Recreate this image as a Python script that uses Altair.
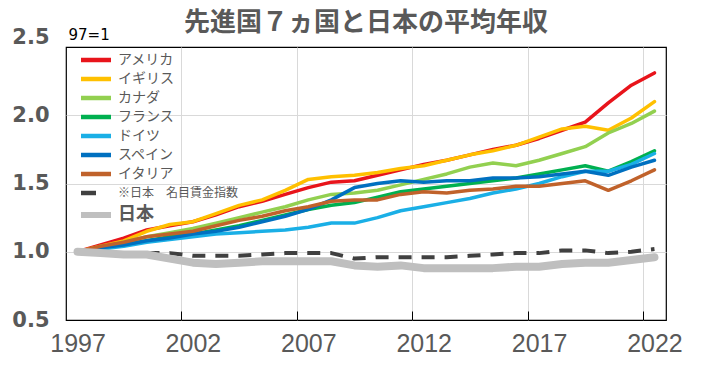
import altair as alt
import pandas as pd

years = list(range(1997, 2023))

series_names = ["アメリカ", "イギリス", "カナダ", "フランス", "ドイツ", "スペイン", "イタリア",
                "※日本　名目賃金指数", "日本"]
series_colors = ["#E8141B", "#FFC000", "#92D050", "#00B050", "#1AAFE6", "#0070C0", "#C0622B",
                 "#404040", "#BFBFBF"]

usa = [1.00, 1.05, 1.10, 1.16, 1.19, 1.22, 1.27, 1.33, 1.37, 1.42, 1.47, 1.51, 1.52, 1.56,
       1.60, 1.64, 1.67, 1.71, 1.75, 1.78, 1.83, 1.89, 1.95, 2.09, 2.22, 2.31]
uk = [1.00, 1.04, 1.08, 1.15, 1.20, 1.22, 1.28, 1.34, 1.38, 1.45, 1.53, 1.55, 1.56, 1.58,
      1.61, 1.63, 1.67, 1.71, 1.74, 1.78, 1.84, 1.90, 1.92, 1.89, 1.98, 2.10]
canada = [1.00, 1.03, 1.07, 1.11, 1.14, 1.17, 1.21, 1.25, 1.29, 1.33, 1.38, 1.42, 1.43, 1.45,
          1.49, 1.53, 1.57, 1.62, 1.65, 1.63, 1.67, 1.72, 1.77, 1.87, 1.94, 2.03]
france = [1.00, 1.02, 1.05, 1.08, 1.11, 1.13, 1.16, 1.19, 1.23, 1.27, 1.31, 1.34, 1.36, 1.40,
          1.44, 1.46, 1.48, 1.50, 1.52, 1.54, 1.57, 1.60, 1.63, 1.59, 1.66, 1.74]
germany = [1.00, 1.02, 1.04, 1.07, 1.09, 1.11, 1.13, 1.14, 1.15, 1.16, 1.18, 1.21, 1.21, 1.25,
           1.30, 1.33, 1.36, 1.39, 1.43, 1.46, 1.50, 1.55, 1.59, 1.59, 1.64, 1.72]
spain = [1.00, 1.03, 1.05, 1.08, 1.10, 1.13, 1.15, 1.18, 1.22, 1.26, 1.31, 1.38, 1.47, 1.50,
         1.52, 1.51, 1.52, 1.52, 1.54, 1.54, 1.55, 1.57, 1.59, 1.56, 1.62, 1.67]
italy = [1.00, 1.04, 1.07, 1.11, 1.13, 1.15, 1.19, 1.23, 1.26, 1.30, 1.33, 1.37, 1.38, 1.38,
         1.42, 1.44, 1.43, 1.45, 1.46, 1.48, 1.48, 1.50, 1.52, 1.45, 1.52, 1.60]
japan_nominal = [1.00, 1.00, 0.99, 0.99, 0.99, 0.97, 0.97, 0.97, 0.98, 0.99, 0.99, 0.99, 0.95,
                 0.96, 0.96, 0.96, 0.96, 0.97, 0.98, 0.99, 0.99, 1.01, 1.01, 0.99, 1.00, 1.02]
japan = [1.00, 0.99, 0.98, 0.98, 0.95, 0.92, 0.91, 0.92, 0.93, 0.93, 0.93, 0.93, 0.90, 0.89,
         0.90, 0.88, 0.88, 0.88, 0.88, 0.89, 0.89, 0.91, 0.92, 0.92, 0.94, 0.96]

x_tick_labels = [1997, 2002, 2007, 2012, 2017, 2022]
y_tick_values = [0.5, 1.0, 1.5, 2.0, 2.5]

all_values = [usa, uk, canada, france, germany, spain, italy, japan_nominal, japan]
kinds = ["country"] * 7 + ["nominal", "japan"]

rows = []
for name, kind, vals in zip(series_names, kinds, all_values):
    for yr, v in zip(years, vals):
        rows.append({"year": yr, "value": v, "series": name, "kind": kind})
df = pd.DataFrame(rows)

# gridlines sit between categories (Excel-style category axis)
grid_positions = [y - 0.5 for y in x_tick_labels[1:]]
x_axis_values = sorted(x_tick_labels + grid_positions)

x_enc = alt.X(
    "year:Q",
    scale=alt.Scale(domain=[1996.5, 2022.5], nice=False, zero=False),
    axis=alt.Axis(
        values=x_axis_values,
        format="d",
        labelExpr="datum.value % 1 === 0 ? datum.label : ''",
        labelFont="Liberation Sans",
        labelFontSize=25,
        labelColor="#595959",
        labelFlush=False,
        labelOverlap=False,
        labelPadding=20,
        domain=False,
        grid=True,
        gridColor="#D9D9D9",
        gridOpacity={"condition": {"test": "datum.value % 1 !== 0", "value": 1}, "value": 0},
        ticks=True,
        tickColor="black",
        tickSize={"expr": "-9"},
        tickOpacity={"condition": {"test": "datum.value % 1 !== 0", "value": 1}, "value": 0},
        title=None,
    ),
)
y_enc = alt.Y(
    "value:Q",
    scale=alt.Scale(domain=[0.5, 2.5], nice=False, zero=False),
    axis=alt.Axis(
        values=y_tick_values,
        format=".1f",
        labelFont="DejaVu Sans",
        labelFontWeight="bold",
        labelFontSize=21,
        labelColor="#595959",
        labelPadding=17,
        labelOffset={"condition": {"test": "datum.value > 2.4", "value": -10}, "value": 0},
        ticks=False,
        domain=False,
        gridColor="#D9D9D9",
        gridOpacity={"condition": {"test": "datum.value > 0.6 && datum.value < 2.4", "value": 1},
                     "value": 0},
        title="97=1",
        titleAngle=0,
        titleX=2,
        titleY=-5,
        titleAlign="left",
        titleBaseline="bottom",
        titleFont="DejaVu Sans",
        titleFontSize=15,
        titleFontWeight="normal",
        titleColor="black",
        minExtent=58,
        maxExtent=58,
    ),
)

legend = alt.Legend(
    title=None,
    orient="none",
    legendX=23,
    legendY=6,
    symbolType="M-2.5,0H2.5",
    symbolSize=144,
    symbolStrokeWidth={"expr": "datum.value === '日本' ? 6 : 4.5"},
    symbolDash={"expr": "datum.value === '※日本　名目賃金指数' ? [15, 40] : [100, 0]"},
    labelFont="Noto Sans CJK JP",
    labelFontSize={"expr": "datum.value === '日本' ? 18 : (datum.value === '※日本　名目賃金指数' ? 12 : 14)"},
    labelFontWeight={"expr": "datum.value === '日本' ? 'bold' : 'normal'"},
    labelColor="#595959",
    labelOffset=15,
    rowPadding=1,
    labelLimit=300,
)

color_enc = alt.Color("series:N", scale=alt.Scale(domain=series_names, range=series_colors),
                      legend=legend)

base = alt.Chart(df)

countries = base.transform_filter("datum.kind === 'country'").mark_line(
    strokeWidth=3.5, strokeCap="round", strokeJoin="round"
).encode(x=x_enc, y=y_enc, color=color_enc)

nominal = base.transform_filter("datum.kind === 'nominal'").mark_line(
    strokeWidth=4, strokeDash=[13, 10], strokeJoin="round"
).encode(x=x_enc, y=y_enc, color=color_enc)

japan_line = base.transform_filter("datum.kind === 'japan'").mark_line(
    strokeWidth=8, strokeCap="round", strokeJoin="round"
).encode(x=x_enc, y=y_enc, color=color_enc)

chart = alt.layer(countries, nominal, japan_line).properties(
    width=600,
    height=273,
    padding={"left": 0, "top": 2, "right": 0, "bottom": 0},
    title=alt.TitleParams(
        "先進国７ヵ国と日本の平均年収",
        font="Noto Sans CJK JP",
        fontSize=26,
        fontWeight="bold",
        color="#595959",
        anchor="middle",
        offset=-10,
    ),
).configure_view(stroke="black", strokeWidth=1.2)

chart.save("out.html", embed_options={"renderer": "svg", "actions": False})
